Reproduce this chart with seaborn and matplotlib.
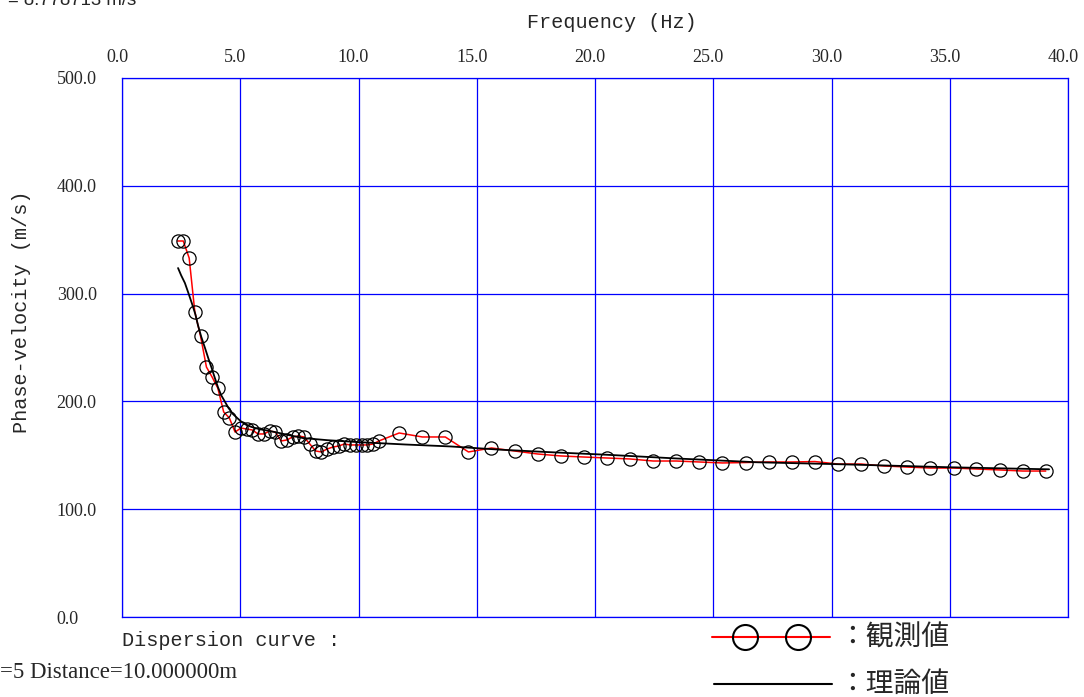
import matplotlib
matplotlib.use("Agg")
import matplotlib.pyplot as plt
from matplotlib.lines import Line2D
from matplotlib.transforms import ScaledTranslation
import seaborn as sns

# Observed dispersion points (frequency in Hz, phase velocity in m/s)
obs_freq = [2.35, 2.59, 2.84, 3.08, 3.32, 3.57, 3.81, 4.05, 4.30, 4.54,
            4.78, 5.03, 5.27, 5.51, 5.75, 6.00, 6.24, 6.48, 6.73, 6.97,
            7.21, 7.46, 7.70, 7.94, 8.19, 8.43, 8.67, 8.92, 9.16, 9.40,
            9.65, 9.89, 10.13, 10.38, 10.62, 10.86,
            11.72, 12.70, 13.67, 14.65, 15.62, 16.60, 17.58, 18.55, 19.53,
            20.51, 21.48, 22.46, 23.44, 24.41, 25.39, 26.37, 27.34, 28.32,
            29.30, 30.27, 31.25, 32.23, 33.20, 34.18, 35.16, 36.13, 37.11,
            38.09, 39.06]
obs_vel = [348.8, 348.8, 333.0, 282.9, 260.7, 231.9, 222.6, 212.4, 190.2, 184.6,
           171.6, 175.3, 174.4, 173.5, 169.8, 169.8, 172.5, 171.6, 163.3, 164.2,
           167.0, 167.9, 167.0, 160.5, 154.0, 153.1, 155.8, 157.7, 158.6, 160.5,
           159.6, 159.6, 159.6, 159.6, 160.5, 163.3,
           170.7, 167.0, 167.0, 153.1, 156.8, 154.0, 151.2, 149.4, 148.4,
           147.5, 146.6, 144.7, 144.7, 143.8, 142.9, 143.3, 143.8, 143.8,
           144.2, 141.9, 141.9, 140.1, 139.1, 138.2, 138.2, 137.3, 136.4,
           135.4, 135.4]

# Theoretical dispersion curve
theo_freq = [2.37, 2.50, 2.66, 2.80, 2.95, 3.10, 3.21, 3.35, 3.51, 3.65,
             3.79, 3.93, 4.06, 4.20, 4.36, 4.50, 4.69, 4.90, 5.06, 5.25,
             5.48, 5.80, 6.26, 7.00, 7.65, 8.70, 9.94, 12.0, 13.9, 16.0,
             18.0, 20.5, 23.5, 26.9, 30.0, 35.0, 39.2]
theo_vel = [323.7, 317.0, 309.8, 301.0, 291.3, 281.0, 270.9, 260.0, 249.5, 240.0,
            231.0, 221.5, 213.0, 205.5, 199.4, 194.0, 188.3, 184.0, 180.9, 178.3,
            176.3, 174.3, 172.5, 169.0, 166.0, 164.0, 162.3, 160.0, 158.2, 155.2,
            153.0, 150.5, 147.0, 143.5, 141.9, 138.9, 137.0]

x_ticks = [0, 5, 10, 15, 20, 25, 30, 35, 40]
y_ticks = [0, 100, 200, 300, 400, 500]
x_tick_labels = ["0.0", "5.0", "10.0", "15.0", "20.0", "25.0", "30.0", "35.0", "40.0"]
y_tick_labels = ["0.0", "100.0", "200.0", "300.0", "400.0", "500.0"]

sns.set_style("white")
plt.rcParams["font.family"] = ["Liberation Serif", "DejaVu Sans"]

W, H = 1084, 697
fig = plt.figure(figsize=(W / 100, H / 100), dpi=100)
ax = fig.add_axes([122 / W, 1 - 617 / H, (1068 - 122) / W, (617 - 78) / H])

grid_blue = "#0000ff"

sns.lineplot(x=obs_freq, y=obs_vel, ax=ax, sort=False, color="red", lw=1.1,
             marker="o", markersize=9.5, markerfacecolor="none",
             markeredgecolor="black", markeredgewidth=0.9, zorder=3)
sns.lineplot(x=theo_freq, y=theo_vel, ax=ax, sort=False, color="black",
             lw=1.3, zorder=4)

ax.set_xlim(0, 40)
ax.set_ylim(0, 500)
ax.set_xticks(x_ticks)
ax.set_xticklabels(x_tick_labels)
ax.set_yticks(y_ticks)
ax.set_yticklabels(y_tick_labels)
ax.xaxis.tick_top()
ax.tick_params(axis="both", length=0, labelsize=13)
ax.tick_params(axis="x", pad=9)
ax.tick_params(axis="y", pad=47)
for lbl in ax.get_yticklabels():
    lbl.set_horizontalalignment("left")
for lbl in ax.get_xticklabels():
    lbl.set_transform(lbl.get_transform() + ScaledTranslation(-5 / 100, 0, fig.dpi_scale_trans))

ax.grid(True, color=grid_blue, lw=0.9)
for sp in ax.spines.values():
    sp.set_color(grid_blue)
    sp.set_linewidth(0.9)

mono = ["Liberation Mono", "DejaVu Sans Mono"]
ax.xaxis.set_label_position("top")
ax.set_xlabel("Frequency (Hz)", fontsize=14.5, family=mono)
ax.xaxis.set_label_coords((612 - 122) / 946, (617 - 22) / 539)
ax.xaxis.label.set_va("center")
ax.set_ylabel("Phase-velocity (m/s)", fontsize=14.5, family=mono)
ax.yaxis.set_label_coords((22 - 122) / 946, (617 - 312) / 539)
ax.yaxis.label.set_va("center")

# Header and footer annotations
fig.text(8 / W, 1 - 5 / H, "= 8.778713 m/s", fontsize=13.4,
         family=["Liberation Sans", "DejaVu Sans"], va="baseline", ha="left")
fig.text(122 / W, 1 - 640 / H, "Dispersion curve :", fontsize=14.5,
         family=mono, va="center", ha="left")
fig.text(0 / W, 1 - 673 / H, "=5 Distance=10.000000m", fontsize=16.5,
         family=["Liberation Serif"], va="center", ha="left")

# Legend drawn beneath the plot area
cjk = ["Noto Sans CJK JP", "DejaVu Sans"]
fig.add_artist(Line2D([712 / W, 830 / W], [1 - 637 / H, 1 - 637 / H],
                      color="red", lw=1.5, transform=fig.transFigure))
fig.add_artist(Line2D([745 / W, 798 / W], [1 - 637 / H, 1 - 637 / H],
                      ls="none", marker="o", markersize=18,
                      markerfacecolor="none", markeredgecolor="black",
                      markeredgewidth=1.5, transform=fig.transFigure))
fig.add_artist(Line2D([714 / W, 832 / W], [1 - 684 / H, 1 - 684 / H],
                      color="black", lw=1.5, transform=fig.transFigure))
fig.text(838 / W, 1 - 638 / H, "：観測値", fontsize=20, family=cjk,
         va="center", ha="left")
fig.text(838 / W, 1 - 684 / H, "：理論値", fontsize=20, family=cjk,
         va="center", ha="left")

fig.savefig("out.png", dpi=100)
